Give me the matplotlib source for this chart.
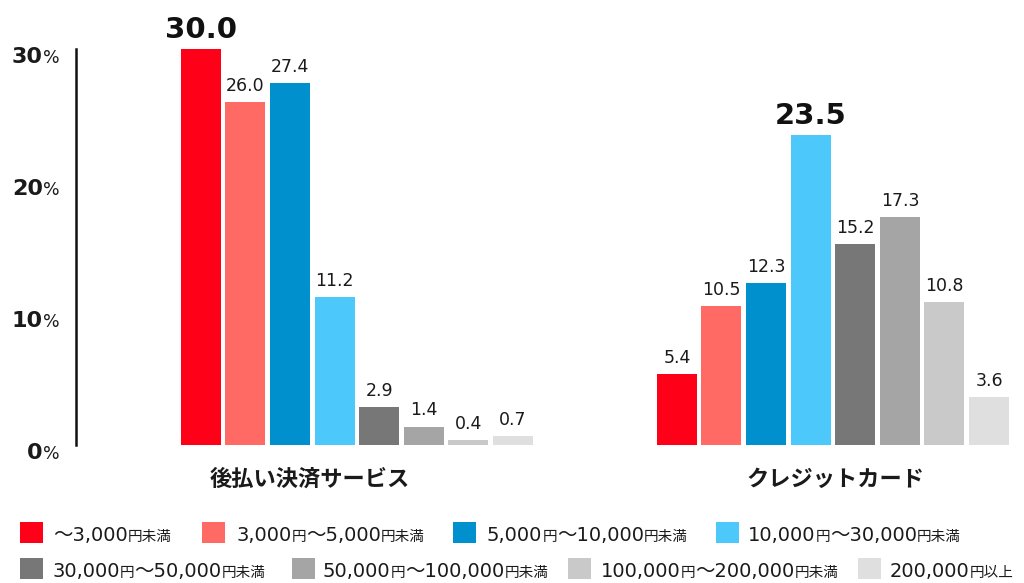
import re
import matplotlib
matplotlib.use("Agg")
import matplotlib.pyplot as plt
from matplotlib.patches import Rectangle

# 支払い方法ごとの金額帯別の割合（%）
groups = ["後払い決済サービス", "クレジットカード"]
bands = [
    "〜3,000円未満",
    "3,000円〜5,000円未満",
    "5,000円〜10,000円未満",
    "10,000円〜30,000円未満",
    "30,000円〜50,000円未満",
    "50,000円〜100,000円未満",
    "100,000円〜200,000円未満",
    "200,000円以上",
]
atobarai = [30.0, 26.0, 27.4, 11.2, 2.9, 1.4, 0.4, 0.7]
credit = [5.4, 10.5, 12.3, 23.5, 15.2, 17.3, 10.8, 3.6]
yticks = [0, 10, 20, 30]

colors = ["#FF0019", "#FF6B64", "#0090CD", "#4CC8FB",
          "#777777", "#A5A5A5", "#C9C9C9", "#DFDFDF"]

W, H = 1024, 583
NUM_FONT = ["DejaVu Sans", "Noto Sans CJK JP"]
JP_FONT = ["Noto Sans CJK JP", "DejaVu Sans"]
TXT = "#1a1a1a"

fig = plt.figure(figsize=(W / 100, H / 100), dpi=100)
ax = fig.add_axes([76 / W, (H - 445) / H, (W - 76) / W, (445 - 49) / H])

step = 0.0937
width = 0.084
for g, values in enumerate([atobarai, credit]):
    top = max(values)
    for i, v in enumerate(values):
        x = g + (i - 3.5) * step
        ax.bar(x, v, width=width, color=colors[i], linewidth=0)
        if v == top:
            ax.annotate(f"{v:.1f}", (x, v), xytext=(0, 8), textcoords="offset points",
                        ha="center", va="baseline", fontsize=21, fontweight="bold",
                        family=NUM_FONT, color="#111111")
        else:
            ax.annotate(f"{v:.1f}", (x, v), xytext=(0, 8), textcoords="offset points",
                        ha="center", va="baseline", fontsize=12.5, family=NUM_FONT,
                        color=TXT)

ax.set_xlim(-0.5903, 1.4013)
ax.set_ylim(0, 30)
for s in ["top", "right", "bottom"]:
    ax.spines[s].set_visible(False)
ax.spines["left"].set_linewidth(1.8)
ax.spines["left"].set_color("#111111")
ax.set_xticks([])
ax.set_yticks([])

fig.canvas.draw()
renderer = fig.canvas.get_renderer()

# y軸ラベル（数字は大きく、%は少し小さく）
for t in yticks:
    ypix = ax.transData.transform((0, t))[1] - 14
    fig.text(43 / W, ypix / H, str(t), ha="right", va="baseline", fontsize=16,
             fontweight="bold", family=NUM_FONT, color=TXT)
    fig.text(43 / W, ypix / H, "%", ha="left", va="baseline", fontsize=12.5,
             family=NUM_FONT, color=TXT)

# グループ名
label_x = [-0.1, 1.005]
for lx, name in zip(label_x, groups):
    xpix = ax.transData.transform((lx, 0))[0]
    fig.text(xpix / W, (H - 479) / H, name, ha="center", va="center", fontsize=16,
             fontweight="bold", family=JP_FONT, color=TXT)


def mixed_text(x, y, label):
    """数字部分を大きく、漢字部分を小さく描いて横に並べる"""
    for part in re.findall(r"[0-9,〜]+|[^0-9,〜]+", label):
        big = re.match(r"[0-9,〜]", part) is not None
        t = fig.text(x / W, y / H, part, ha="left", va="baseline",
                     fontsize=14 if big else 10.5, family=NUM_FONT if big else JP_FONT,
                     color=TXT)
        x = t.get_window_extent(renderer).x1


# 凡例
legend_pos = [
    (20, 53, 532), (202, 236, 532), (453, 487, 532), (716, 748, 532),
    (20, 52, 568), (292, 323, 568), (568, 601, 568), (858, 890, 568),
]
for (px, tx, cy), label, c in zip(legend_pos, bands, colors):
    fig.patches.append(Rectangle((px / W, (H - cy - 10.5) / H), 23 / W, 21 / H,
                                 transform=fig.transFigure, color=c, linewidth=0))
    mixed_text(tx, H - cy - 9, label)

fig.savefig("out.png", dpi=100, facecolor="white")
